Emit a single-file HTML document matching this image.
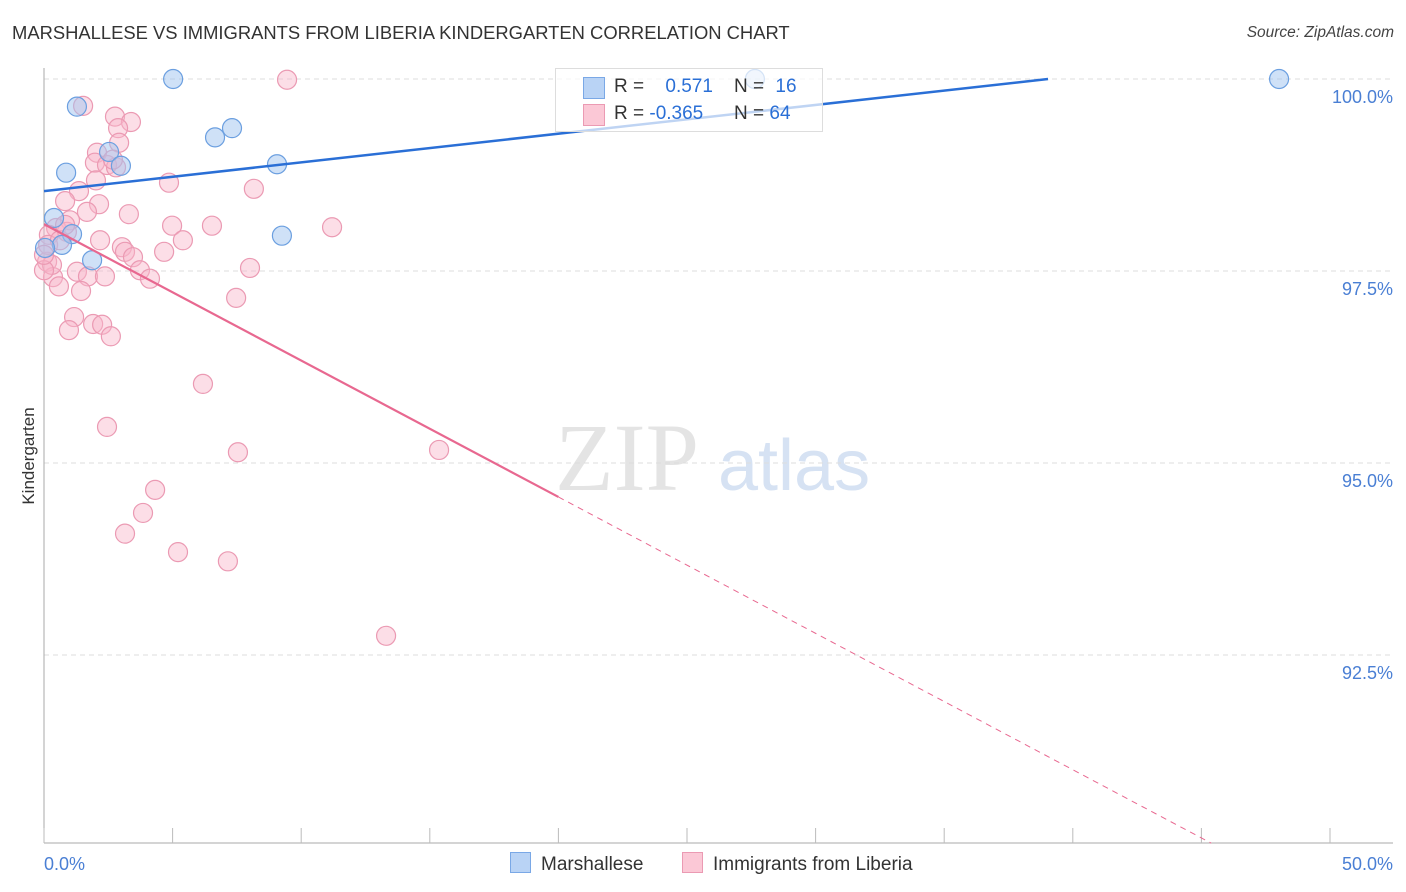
<!DOCTYPE html>
<html><head><meta charset="utf-8"><style>
body{margin:0;background:#fff;font-family:"Liberation Sans",sans-serif}
#wrap{position:relative;width:1406px;height:892px}
.t{position:absolute;white-space:nowrap}
</style></head><body>
<div id="wrap">
<div class="t" style="left:12px;top:22px;font-size:18.4px;color:#333">MARSHALLESE VS IMMIGRANTS FROM LIBERIA KINDERGARTEN CORRELATION CHART</div>
<div class="t" style="right:12px;top:24px;font-size:15.5px;color:#444;font-style:italic">Source: ZipAtlas.com</div>
<svg id="svg" width="1406" height="892" style="position:absolute;left:0;top:0"></svg>
</div>
<script>
const xTicks=[0,5,10,15,20,25,30,35,40,45,50];
const yTicks=[100,97.5,95,92.5];
const yTickLabels=["100.0%","97.5%","95.0%","92.5%"];
const blueX=[5.02,1.28,0.86,2.53,2.99,6.65,7.31,9.06,27.64,48.02,0.39,1.09,0.70,0.04,1.87,9.25];
const blueY=[100,99.64,98.78,99.05,98.87,99.24,99.36,98.89,100,100,98.19,97.98,97.84,97.80,97.64,97.96];
const pinkX=[9.45,1.52,2.76,3.38,2.88,2.92,2.06,1.98,2.45,2.80,2.02,4.86,8.16,1.36,2.14,0.82,1.67,3.30,1.01,4.98,6.53,11.20,0.47,0.89,0.19,5.40,3.03,3.15,3.46,4.67,8.01,0.12,3.73,4.12,1.28,1.71,2.37,0.35,0.58,1.44,7.47,1.17,0.97,1.91,2.26,2.60,6.18,2.45,7.54,15.36,4.32,3.85,3.15,5.21,7.15,13.30,0.16,0.62,0.31,0.0,0.82,2.18,0.0,2.68];
const pinkY=[99.99,99.65,99.51,99.44,99.36,99.17,99.04,98.91,98.88,98.85,98.68,98.65,98.57,98.54,98.37,98.41,98.27,98.24,98.16,98.09,98.09,98.07,98.06,98.01,97.97,97.90,97.81,97.75,97.68,97.75,97.54,97.62,97.51,97.40,97.49,97.43,97.43,97.42,97.30,97.24,97.15,96.90,96.73,96.81,96.80,96.65,96.03,95.47,95.14,95.17,94.65,94.35,94.08,93.84,93.72,92.75,97.84,97.90,97.58,97.51,98.10,97.90,97.71,98.95];
const blueTrend=[98.54,0.0374];
const pinkTrend=[98.11,-0.1776];
const X=v=>44+v*25.72, Y=v=>79+(100-v)*76.8;
const svg=document.getElementById('svg');const NS='http://www.w3.org/2000/svg';
function mk(t,a,p){const e=document.createElementNS(NS,t);for(const k in a)e.setAttribute(k,a[k]);(p||svg).appendChild(e);return e;}
let w=mk('text',{x:555,y:490,'font-size':96,fill:'#e4e4e4','font-family':'Liberation Serif'});w.textContent='ZIP';


let w2=mk('text',{x:718,y:490,'font-size':72,fill:'#d6e2f3','font-family':'Liberation Sans'});w2.textContent='atlas';


yTicks.forEach((v,i)=>{
 const g=mk('line',{x1:44,x2:1393,y1:Y(v),y2:Y(v),stroke:'#ddd','stroke-dasharray':'5,4'});
 
 
 const t=mk('text',{x:1393,y:Y(v)+24,'text-anchor':'end','font-size':18,fill:'#4a7fd4'});t.textContent=yTickLabels[i];
 
 
});
const ax=mk('line',{x1:44,x2:44,y1:68,y2:843,stroke:'#aaa'});


const bx=mk('line',{x1:44,x2:1393,y1:843,y2:843,stroke:'#aaa'});


xTicks.forEach(v=>{const l=mk('line',{x1:X(v),x2:X(v),y1:828,y2:843,stroke:'#bbb'});
 
 });
function dots(xs,ys,fill,stroke,name){xs.forEach((x,i)=>{const c=mk('circle',{cx:X(x),cy:Y(ys[i]),r:9.5,fill:fill,stroke:stroke,'stroke-width':1.2});
 
 });}
dots(pinkX,pinkY,'rgba(248,182,202,0.45)','#eb9ab3','point-liberia');
dots(blueX,blueY,'rgba(160,196,240,0.5)','#6b9fe0','point-marshallese');
let bxEnd=(100-blueTrend[0])/blueTrend[1];
const bl=mk('line',{x1:X(0),y1:Y(blueTrend[0]),x2:X(bxEnd),y2:Y(100),stroke:'#2a6fd6','stroke-width':2.5});


const pv=x=>pinkTrend[0]+pinkTrend[1]*x;
const pl=mk('line',{x1:X(0),y1:Y(pv(0)),x2:X(20),y2:Y(pv(20)),stroke:'#e86890','stroke-width':2.2});


const pe=(90.05-pinkTrend[0])/pinkTrend[1];
const pd=mk('line',{x1:X(20),y1:Y(pv(20)),x2:X(pe),y2:Y(pv(pe)),stroke:'#e86890','stroke-width':1,'stroke-dasharray':'6,5'});


const xl=mk('text',{x:44,y:870,'font-size':18,fill:'#4a7fd4'});xl.textContent='0.0%';


const xr=mk('text',{x:1393,y:870,'font-size':18,fill:'#4a7fd4','text-anchor':'end'});xr.textContent='50.0%';


const yt=mk('text',{x:34,y:456,'font-size':17,fill:'#333','text-anchor':'middle',transform:'rotate(-90 34 456)'});yt.textContent='Kindergarten';


</script>
<div style="position:absolute;left:555px;top:68px;width:266px;height:62px;border:1px solid #ddd;background:rgba(255,255,255,0.7);font-size:19px;color:#333">
 <div style="position:absolute;left:27px;top:8px;width:20px;height:20px;background:#b9d3f5;border:1px solid #7aa8e6"></div>
 <div style="position:absolute;left:27px;top:35px;width:20px;height:20px;background:#fbc8d6;border:1px solid #eb9ab3"></div>
 <div class="t" style="left:58px;top:7px">R = <span style="color:#2a6fd6;margin-left:16px">0.571</span></div>
 <div class="t" style="left:178px;top:7px">N = <span style="color:#2a6fd6;margin-left:6px">16</span></div>
 <div class="t" style="left:58px;top:34px">R = <span style="color:#2a6fd6">-0.365</span></div>
 <div class="t" style="left:178px;top:34px">N = <span style="color:#2a6fd6">64</span></div>
</div>
<div style="position:absolute;left:510px;top:852px;font-size:19px;color:#333">
 <div style="position:absolute;left:0;top:0;white-space:nowrap"><span style="display:inline-block;width:19px;height:19px;background:#b9d3f5;border:1px solid #7aa8e6;vertical-align:-3px;margin-right:10px"></span>Marshallese</div>
 <div style="position:absolute;left:172px;top:0;white-space:nowrap"><span style="display:inline-block;width:19px;height:19px;background:#fbc8d6;border:1px solid #eb9ab3;vertical-align:-3px;margin-right:10px"></span>Immigrants from Liberia</div>
</div>
</body></html>
